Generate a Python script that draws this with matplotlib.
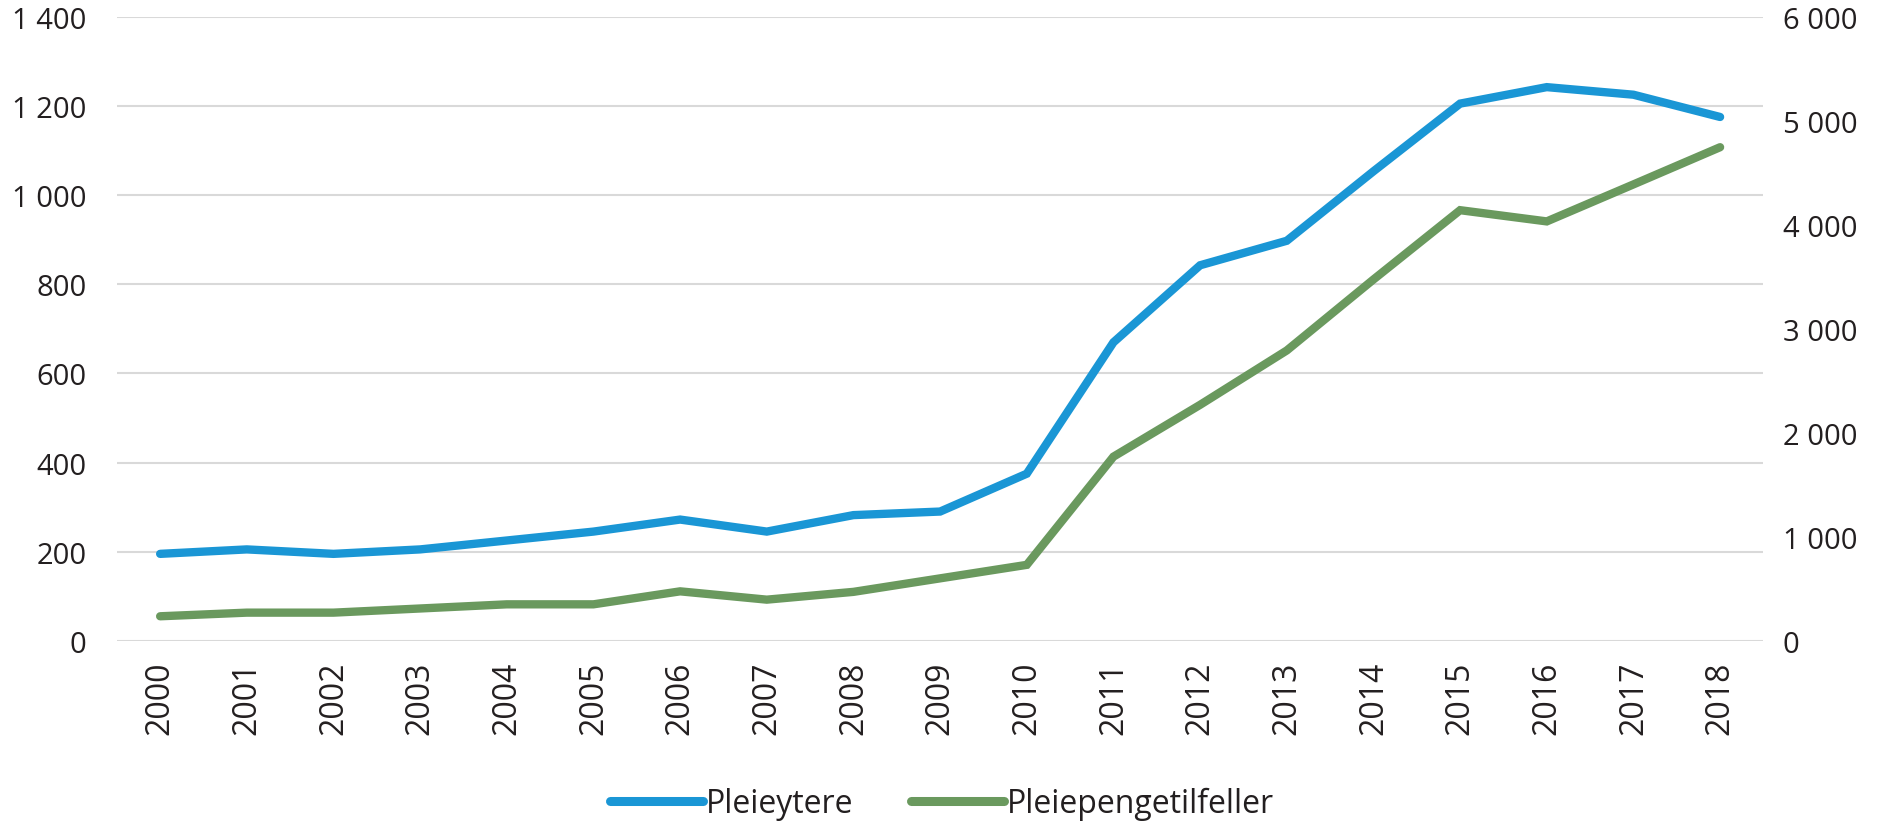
import matplotlib.pyplot as plt
from matplotlib.ticker import FuncFormatter, MultipleLocator

years = [str(y) for y in range(2000, 2019)]
pleieytere = [195, 205, 195, 205, 225, 245, 272, 245, 282, 290,
              375, 670, 843, 898, 1054, 1206, 1243, 1226, 1176]
pleiepengetilfeller = [235, 270, 270, 310, 350, 350, 475, 395, 470, 600,
                       730, 1771, 2270, 2793, 3476, 4143, 4035, 4391, 4749]

BLUE = "#1a96d5"
GREEN = "#6a995e"
TEXT = "#231f20"

plt.rcParams["font.family"] = ["Open Sans", "DejaVu Sans"]


def space_thousands(x, pos):
    return f"{x:,.0f}".replace(",", " ")


fig = plt.figure(figsize=(18.84, 8.28), dpi=100)
ax = fig.add_axes([0.062, 0.225, 0.874, 0.753])
ax2 = ax.twinx()

x = range(len(years))
ax.plot(x, pleieytere, color=BLUE, lw=6, solid_capstyle="round",
        solid_joinstyle="miter", zorder=3)
ax2.plot(x, pleiepengetilfeller, color=GREEN, lw=6, solid_capstyle="round",
         solid_joinstyle="miter", zorder=3)

ax.set_xlim(-0.5, len(years) - 0.5)
ax.set_ylim(0, 1400)
ax2.set_ylim(0, 6000)
ax.yaxis.set_major_locator(MultipleLocator(200))
ax2.yaxis.set_major_locator(MultipleLocator(1000))
ax.yaxis.set_major_formatter(FuncFormatter(space_thousands))
ax2.yaxis.set_major_formatter(FuncFormatter(space_thousands))

ax.set_xticks(list(x))
ax.set_xticklabels(years, rotation=90, family=["Liberation Sans Narrow", "Open Sans"])

ax.grid(axis="y", color="#d9d9d9", lw=1.5)
ax.set_axisbelow(True)
for a in (ax, ax2):
    for s in a.spines.values():
        s.set_visible(False)
ax.tick_params(axis="y", length=0, pad=22, labelsize=21, labelcolor=TEXT)
ax2.tick_params(axis="y", length=0, pad=14, labelsize=21, labelcolor=TEXT)
ax.tick_params(axis="x", length=0, pad=14, labelsize=23, labelcolor=TEXT)
for lab in ax2.get_yticklabels():
    lab.set_horizontalalignment("left")

# legend
h1 = plt.Line2D([], [], color=BLUE, lw=6.5, solid_capstyle="round")
h2 = plt.Line2D([], [], color=GREEN, lw=6.5, solid_capstyle="round")
fig.legend([h1, h2], ["Pleieytere", "Pleiepengetilfeller"], loc="lower center",
           bbox_to_anchor=(0.5, -0.026), ncol=2, frameon=False, fontsize=23,
           handlelength=2.9, handletextpad=0.1, columnspacing=1.8,
           labelcolor=TEXT)

fig.savefig("out.png", dpi=100)
